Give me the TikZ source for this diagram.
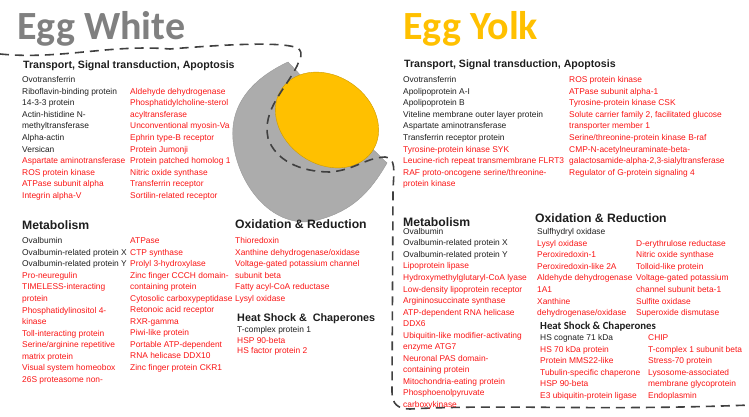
\documentclass[tikz,border=0pt]{standalone}
\usepackage{fontspec}
\setmainfont{Liberation Sans}
\newfontfamily\califont{Carlito}
\definecolor{txtred}{RGB}{250,20,20}
\definecolor{txtblack}{RGB}{30,30,30}
\definecolor{whitegray}{RGB}{128,128,128}
\definecolor{yolk}{RGB}{255,192,0}
\newcommand\rd[1]{\textcolor{txtred}{#1}}
\begin{document}
\begin{tikzpicture}[x=1pt,y=-1pt,
 col/.style={anchor=north west,inner sep=0,align=left,font=\fontsize{8.4}{11.55}\selectfont,text=txtblack},
 hdr/.style={anchor=west,inner sep=0,font=\bfseries\fontsize{10.6}{12}\selectfont,text=txtblack},
 bighdr/.style={anchor=west,inner sep=0,font=\bfseries\fontsize{12.2}{14}\selectfont,text=txtblack},
 title/.style={anchor=west,inner sep=0,font=\califont\bfseries\fontsize{40}{44}\selectfont}]
\useasboundingbox (0,0) rectangle (749,417);
% egg graphic
\draw[fill=gray!65,draw=gray!80] (345,122) -- (288,62) to[out=205,in=95] (233,140) to[out=275,in=195] (318,220) to[out=15,in=240] (387,163) -- cycle;
\draw[fill=yolk,draw=yolk!80!black,rotate around={-35:(327,120)}] (327,120) ellipse [x radius=55,y radius=44];
% dashed boundary
\coordinate (d0) at (0,54);
\coordinate (d1) at (750,405);
\draw[line width=1.6pt,dash pattern=on 9pt off 6pt,color=black!75]
 (d0) .. controls (60,60) and (110,44) .. (170,49) .. controls (220,45) and (280,41) .. (298,48)
 .. controls (304,54) and (300,58) .. (297,66) .. controls (285,90) and (262,110) .. (268,138)
 .. controls (275,160) and (300,172) .. (330,172) .. controls (355,170) and (365,158) .. (385,157)
 .. controls (396,158) and (394,170) .. (393,190) -- (392,392) .. controls (392,404) and (398,409) .. (410,409)
 .. controls (500,404) and (600,411) .. (d1);
% titles
\node[title,text=whitegray] (tw) at (17,29) {Egg White};
\node[title,text=yolk] (ty) at (403,29) {Egg Yolk};
% Egg White transport
\node[hdr] (wth) at (23,66) {Transport, Signal transduction, Apoptosis};
\node[col] (wt1) at (22,76.5) {Ovotransferrin\\Riboflavin-binding protein\\14-3-3 protein\\Actin-histidine N-\\methyltransferase\\Alpha-actin\\Versican\\\rd{Aspartate aminotransferase}\\\rd{ROS protein kinase}\\\rd{ATPase subunit alpha}\\\rd{Integrin alpha-V}};
\node[col] (wt2) at (130,88) {\rd{Aldehyde dehydrogenase}\\\rd{Phosphatidylcholine-sterol}\\\rd{acyltransferase}\\\rd{Unconventional myosin-Va}\\\rd{Ephrin type-B receptor}\\\rd{Protein Jumonji}\\\rd{Protein patched homolog 1}\\\rd{Nitric oxide synthase}\\\rd{Transferrin receptor}\\\rd{Sortilin-related receptor}};
% Egg White metabolism
\node[bighdr] (wmh) at (22,225) {Metabolism};
\node[col] (wm1) at (22,237.5) {Ovalbumin\\Ovalbumin-related protein X\\Ovalbumin-related protein Y\\\rd{Pro-neuregulin}\\\rd{TIMELESS-interacting}\\\rd{protein}\\\rd{Phosphatidylinositol 4-}\\\rd{kinase}\\\rd{Toll-interacting protein}\\\rd{Serine/arginine repetitive}\\\rd{matrix protein}\\\rd{Visual system homeobox}\\\rd{26S proteasome non-}};
\node[col] (wm2) at (130,237.5) {\rd{ATPase}\\\rd{CTP synthase}\\\rd{Prolyl 3-hydroxylase}\\\rd{Zinc finger CCCH domain-}\\\rd{containing protein}\\\rd{Cytosolic carboxypeptidase}\\\rd{Retonoic acid receptor}\\\rd{RXR-gamma}\\\rd{Piwi-like protein}\\\rd{Portable ATP-dependent}\\\rd{RNA helicase DDX10}\\\rd{Zinc finger protein CKR1}};
\node[bighdr] (woh) at (235,224) {Oxidation \& Reduction};
\node[col] (wo1) at (235,237.5) {\rd{Thioredoxin}\\\rd{Xanthine dehydrogenase/oxidase}\\\rd{Voltage-gated potassium channel}\\\rd{subunit beta}\\\rd{Fatty acyl-CoA reductase}\\\rd{Lysyl oxidase}};
\node[hdr,font=\bfseries\fontsize{10.8}{12}\selectfont] (whh) at (237,319) {Heat Shock \&\ \ Chaperones};
\node[col,font=\fontsize{8.4}{10.3}\selectfont] (wh1) at (237,326.5) {T-complex protein 1\\\rd{HSP 90-beta}\\\rd{HS factor protein 2}};
% Egg Yolk transport
\node[hdr] (yth) at (404,65) {Transport, Signal transduction, Apoptosis};
\node[col] (yt1) at (403,76.5) {Ovotransferrin\\Apolipoprotein A-I\\Apolipoprotein B\\Viteline membrane outer layer protein\\Aspartate aminotransferase\\Transferrin receptor protein\\\rd{Tyrosine-protein kinase SYK}\\\rd{Leucine-rich repeat transmembrane FLRT3}\\\rd{RAF proto-oncogene serine/threonine-}\\\rd{protein kinase}};
\node[col] (yt2) at (569,76.5) {\rd{ROS protein kinase}\\\rd{ATPase subunit alpha-1}\\\rd{Tyrosine-protein kinase CSK}\\\rd{Solute carrier family 2, facilitated glucose}\\\rd{transporter member 1}\\\rd{Serine/threonine-protein kinase B-raf}\\\rd{CMP-N-acetylneuraminate-beta-}\\\rd{galactosamide-alpha-2,3-sialyltransferase}\\\rd{Regulator of G-protein signaling 4}};
% Egg Yolk metabolism
\node[bighdr] (ymh) at (403,222) {Metabolism};
\node[col] (ym1) at (403,228) {Ovalbumin\\Ovalbumin-related protein X\\Ovalbumin-related protein Y\\\rd{Lipoprotein lipase}\\\rd{Hydroxymethylglutaryl-CoA lyase}\\\rd{Low-density lipoprotein receptor}\\\rd{Argininosuccinate synthase}\\\rd{ATP-dependent RNA helicase}\\\rd{DDX6}\\\rd{Ubiquitin-like modifier-activating}\\\rd{enzyme ATG7}\\\rd{Neuronal PAS domain-}\\\rd{containing protein}\\\rd{Mitochondria-eating protein}\\\rd{Phosphoenolpyruvate}\\\rd{carboxykinase}};
\node[bighdr] (yoh) at (535,218) {Oxidation \& Reduction};
\node[col] (yo1) at (537,228.5) {Sulfhydryl oxidase\\\rd{Lysyl oxidase}\\\rd{Peroxiredoxin-1}\\\rd{Peroxiredoxin-like 2A}\\\rd{Aldehyde dehydrogenase}\\\rd{1A1}\\\rd{Xanthine}\\\rd{dehydrogenase/oxidase}};
\node[col] (yo2) at (636,240) {\rd{D-erythrulose reductase}\\\rd{Nitric oxide synthase}\\\rd{Tolloid-like protein}\\\rd{Voltage-gated potassium}\\\rd{channel subunit beta-1}\\\rd{Sulfite oxidase}\\\rd{Superoxide dismutase}};
\node[hdr,font=\califont\bfseries\fontsize{10.8}{12}\selectfont] (yhh) at (540,327) {Heat Shock \& Chaperones};
\node[col] (yh1) at (540,334.5) {HS cognate 71 kDa\\\rd{HS 70 kDa protein}\\\rd{Protein MMS22-like}\\\rd{Tubulin-specific chaperone}\\\rd{HSP 90-beta}\\\rd{E3 ubiquitin-protein ligase}};
\node[col] (yh2) at (648,334.5) {\rd{CHIP}\\\rd{T-complex 1 subunit beta}\\\rd{Stress-70 protein}\\\rd{Lysosome-associated}\\\rd{membrane glycoprotein}\\\rd{Endoplasmin}};
\end{tikzpicture}
\end{document}
